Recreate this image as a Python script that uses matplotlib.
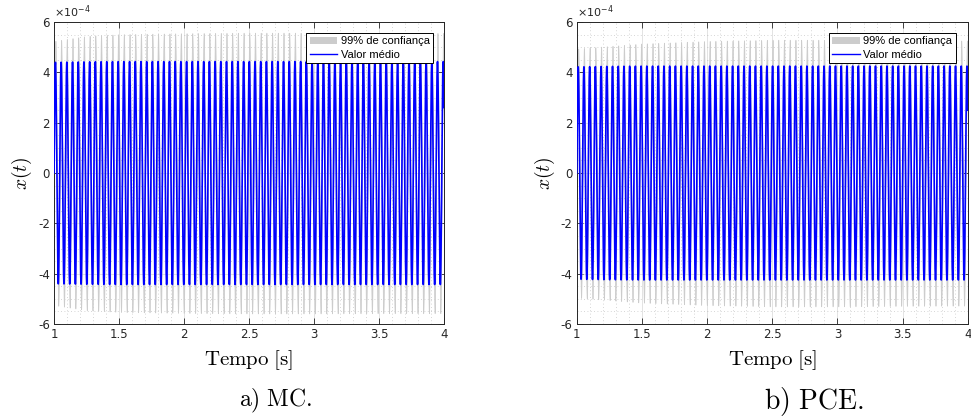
import numpy as np
import matplotlib
matplotlib.use("Agg")
import matplotlib.pyplot as plt
from matplotlib.ticker import MultipleLocator, FuncFormatter
from matplotlib.patches import Patch
from matplotlib.lines import Line2D

# ---- data (amplitudes in units of 1e-4) ----
t_env = [1.0, 1.25, 1.5, 2.0, 2.5, 3.0, 3.5, 4.0]
mc_mean_amp = [4.40, 4.42, 4.43, 4.43, 4.43, 4.43, 4.43, 4.43]
mc_upper_amp = [5.25, 5.45, 5.52, 5.56, 5.58, 5.58, 5.57, 5.57]
mc_inner_amp = [3.40, 3.40, 3.40, 3.40, 3.40, 3.40, 3.40, 3.40]
pce_mean_amp = [4.22, 4.24, 4.25, 4.25, 4.25, 4.25, 4.25, 4.25]
pce_upper_amp = [4.95, 5.05, 5.15, 5.25, 5.30, 5.30, 5.28, 5.27]
pce_inner_amp = [3.30, 3.30, 3.30, 3.30, 3.30, 3.30, 3.30, 3.30]
freq_hz = 22.8          # oscillation frequency read from stripe spacing
t_start, t_end = 1.0, 4.0
x_ticks = [1, 1.5, 2, 2.5, 3, 3.5, 4]
y_ticks = [-6, -4, -2, 0, 2, 4, 6]
captions = ["a) MC.", "b) PCE."]
legend_labels = ["99% de confiança", "Valor médio"]

SCALE = 1e-4
t = np.linspace(t_start, t_end, 30000)
carrier = np.sin(2 * np.pi * freq_hz * (t - t_start))

fig = plt.figure(figsize=(9.71, 4.17), dpi=100)
ax_pos = [[0.0556, 0.223, 0.4017, 0.724], [0.594, 0.223, 0.4027, 0.724]]
datasets = [(mc_mean_amp, mc_upper_amp, mc_inner_amp),
            (pce_mean_amp, pce_upper_amp, pce_inner_amp)]
cap_sizes = [17, 20]
cap_x = [0.284, 0.838]
leg_anchor = [(0.972, 0.9636), (0.969, 0.9636)]

tick_col = (0.15, 0.15, 0.15)
plt.rcParams['mathtext.fontset'] = 'cm'

for i, (mean_a, up_a, in_a) in enumerate(datasets):
    ax = fig.add_axes(ax_pos[i])
    m = np.interp(t, t_env, mean_a) * SCALE
    u = np.interp(t, t_env, up_a) * SCALE
    n = np.interp(t, t_env, in_a) * SCALE
    ax.fill_between(t, n * carrier, u * carrier, color='#cccccc', lw=0.5,
                    edgecolor='#cccccc', zorder=2)
    ax.plot(t, m * carrier, color='#0000ff', lw=1.2, zorder=3)

    ax.set_xlim(t_start, t_end)
    ax.set_ylim(-6 * SCALE, 6 * SCALE)
    ax.set_xticks(x_ticks)
    ax.set_yticks([v * SCALE for v in y_ticks])
    ax.xaxis.set_major_formatter(FuncFormatter(lambda v, p: f"{v:g}"))
    ax.yaxis.set_major_formatter(FuncFormatter(lambda v, p: f"{round(v / SCALE):d}"))
    ax.xaxis.set_minor_locator(MultipleLocator(0.1))
    ax.yaxis.set_minor_locator(MultipleLocator(0.5 * SCALE))
    ax.grid(which='major', color=(0.15, 0.15, 0.15), alpha=0.15, lw=0.6)
    ax.grid(which='minor', color=(0.15, 0.15, 0.15), alpha=0.25, lw=0.6,
            linestyle=(0, (1, 3)))
    ax.set_axisbelow(True)
    ax.tick_params(which='major', direction='in', top=True, right=True,
                   length=4, width=0.6, labelsize=8.5, colors=tick_col,
                   labelcolor=tick_col, pad=3)
    ax.tick_params(which='minor', length=0, top=True, right=True)
    for s in ax.spines.values():
        s.set_color(tick_col)
        s.set_linewidth(0.7)
    ax.text(0.0, 1.008, r"$\times10^{-4}$", transform=ax.transAxes,
            fontsize=8, color=tick_col, ha='left', va='bottom',
            family='Liberation Sans', math_fontfamily='dejavusans')
    ax.set_xlabel(r"$\mathrm{Tempo\ [s]}$", fontsize=15, labelpad=5)
    ax.set_ylabel(r"$x(t)$", fontsize=14, labelpad=3)

    handles = [Patch(facecolor='#cccccc', edgecolor='none'),
               Line2D([0], [0], color='#0000ff', lw=1.0)]
    leg = ax.legend(handles, legend_labels, loc='upper right',
                    bbox_to_anchor=leg_anchor[i],
                    prop={'family': 'Liberation Sans', 'size': 8},
                    frameon=True, fancybox=False, framealpha=1,
                    edgecolor='black', borderpad=0.3, labelspacing=0.3,
                    handlelength=2.5, handletextpad=0.3, borderaxespad=0.0)
    leg.get_frame().set_linewidth(0.7)

    fig.text(cap_x[i], 0.038, r"$\mathrm{" + captions[i].replace(" ", r"\ ") + "}$",
             fontsize=cap_sizes[i], ha='center', va='center')

fig.savefig("out.png", dpi=100)
